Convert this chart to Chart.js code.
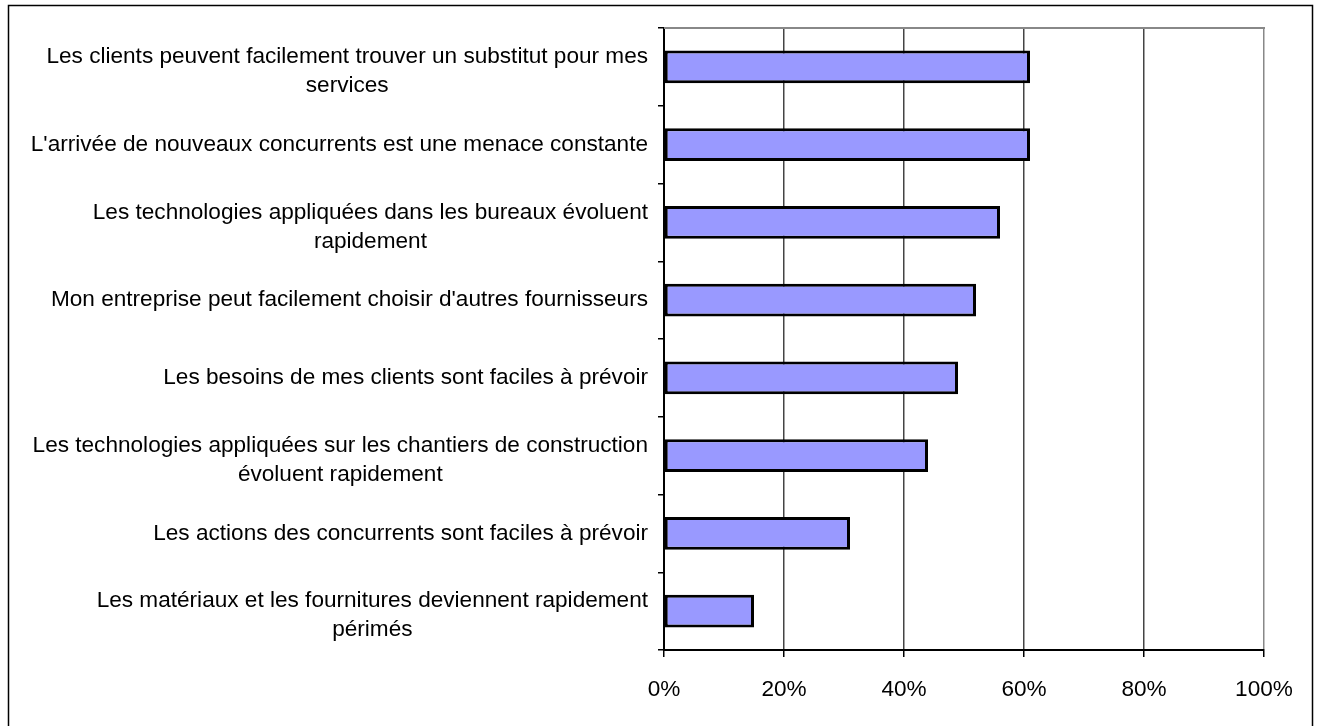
<!DOCTYPE html>
<html lang="fr">
<head>
<meta charset="utf-8">
<title>Perception de l'environnement concurrentiel</title>
<script src="https://cdn.jsdelivr.net/npm/chart.js@4/dist/chart.umd.min.js"></script>
<style>
  html, body { margin: 0; padding: 0; background: #fff; }
  #wrap { position: relative; width: 1317px; height: 726px; overflow: hidden; }
  canvas { display: block; }
</style>
</head>
<body>
<div id="wrap"><canvas id="chart" width="1317" height="726"></canvas></div>
<script>
// Statements (each entry holds its wrapped lines)
const statements = [
  ["Les clients peuvent facilement trouver un substitut pour mes", "services"],
  ["L'arrivée de nouveaux concurrents est une menace constante"],
  ["Les technologies appliquées dans les bureaux évoluent", "rapidement"],
  ["Mon entreprise peut facilement choisir d'autres fournisseurs"],
  ["Les besoins de mes clients sont faciles à prévoir"],
  ["Les technologies appliquées sur les chantiers de construction", "évoluent rapidement"],
  ["Les actions des concurrents sont faciles à prévoir"],
  ["Les matériaux et les fournitures deviennent rapidement", "périmés"]
];

// Share of respondents who agree (%)
const agreeShare = [61, 61, 56, 52, 49, 44, 31, 15];

// Percentage axis ticks
const axisMin = 0;
const axisMax = 100;
const axisStep = 20;

const FONT = "'Liberation Sans', Arial, Helvetica, sans-serif";
const FONT_SIZE = 22.6;

// Category labels: right-aligned block, each line centred inside the block
const statementLabels = {
  id: 'statementLabels',
  afterDraw(chart) {
    const { ctx, scales } = chart;
    const y = scales.y;
    const rightEdge = chart.chartArea.left - 16;
    const lineH = 29;
    ctx.save();
    ctx.font = FONT_SIZE + 'px ' + FONT;
    ctx.fillStyle = '#000';
    ctx.textAlign = 'center';
    ctx.textBaseline = 'middle';
    statements.forEach((lines, i) => {
      const cy = y.getPixelForValue(i) + (lines.length > 1 ? 4.5 : 0);
      const blockW = Math.max(...lines.map(l => ctx.measureText(l).width));
      const cx = rightEdge - blockW / 2;
      lines.forEach((line, k) => {
        ctx.fillText(line, cx, cy + (k - (lines.length - 1) / 2) * lineH);
      });
    });
    ctx.restore();
  }
};

// Plot-area top edge and outer chart frame
const frame = {
  id: 'frame',
  beforeDatasetsDraw(chart) {
    const { ctx, chartArea: a } = chart;
    ctx.save();
    ctx.strokeStyle = '#888';
    ctx.lineWidth = 2;
    ctx.beginPath();
    ctx.moveTo(a.left, a.top);
    ctx.lineTo(a.right + 1, a.top);
    ctx.stroke();
    ctx.restore();
  },
  afterDraw(chart) {
    const { ctx } = chart;
    ctx.save();
    ctx.strokeStyle = '#000';
    ctx.lineWidth = 1.5;
    ctx.strokeRect(8.5, 5.5, 1304, 800);
    ctx.restore();
  }
};

new Chart(document.getElementById('chart'), {
  type: 'bar',
  data: {
    labels: statements,
    datasets: [{
      data: agreeShare,
      backgroundColor: '#9999FF',
      borderColor: '#000',
      borderWidth: 3,
      borderSkipped: false,
      barPercentage: 0.42,
      categoryPercentage: 1
    }]
  },
  options: {
    indexAxis: 'y',
    responsive: false,
    animation: false,
    devicePixelRatio: 1,
    layout: { padding: { left: 0, top: 28, right: 53, bottom: 0 } },
    plugins: {
      legend: { display: false },
      tooltip: { enabled: false },
      title: { display: false }
    },
    scales: {
      x: {
        type: 'linear',
        position: 'bottom',
        min: axisMin,
        max: axisMax,
        afterFit(scale) { scale.height = 76; },
        ticks: {
          stepSize: axisStep,
          color: '#000',
          padding: 19,
          font: { family: FONT, size: FONT_SIZE },
          callback: v => v + '%'
        },
        grid: {
          drawOnChartArea: true,
          drawTicks: true,
          tickLength: 7,
          tickColor: '#000',
          lineWidth: 1.5,
          color: ctx => (ctx.tick && ctx.tick.value === axisMax) ? '#888' : '#444'
        },
        border: { display: true, color: '#000', width: 2 }
      },
      y: {
        type: 'category',
        position: 'left',
        afterFit(scale) { scale.width = 664; },
        ticks: { display: false },
        grid: {
          offset: true,
          drawOnChartArea: false,
          drawTicks: true,
          tickLength: 6,
          tickColor: '#000',
          lineWidth: 1.5
        },
        border: { display: true, color: '#000', width: 2 }
      }
    }
  },
  plugins: [statementLabels, frame]
});
</script>
</body>
</html>
